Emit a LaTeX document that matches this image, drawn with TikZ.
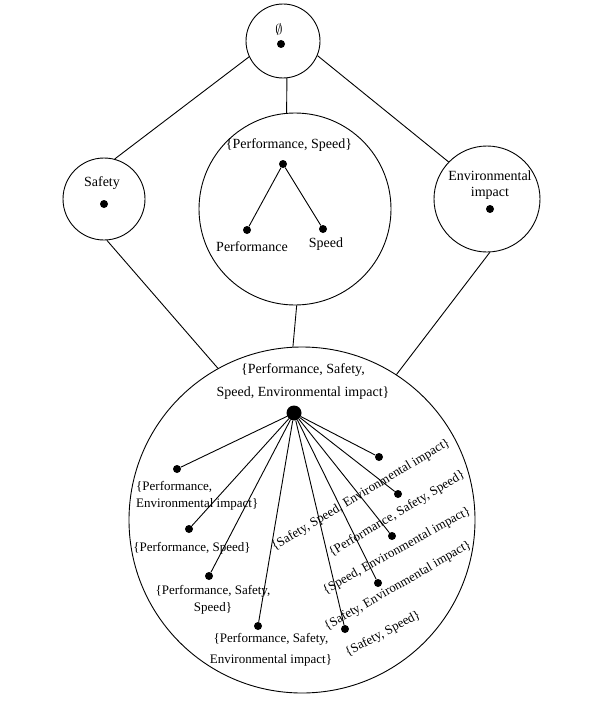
\documentclass[tikz,border=0pt]{standalone}
\usepackage{fontspec}
\setmainfont{Liberation Serif}
\begin{document}
\begin{tikzpicture}[x=1pt,y=-1pt,
  ring/.style={draw, circle, line width=0.9pt, inner sep=0pt},
  dot/.style={circle, fill, inner sep=0pt, minimum size=8pt},
  bigdot/.style={circle, fill, inner sep=0pt, minimum size=15pt},
  conn/.style={line width=0.9pt},
  lab/.style={font=\fontsize{14}{16}\selectfont, inner sep=0pt, align=center},
  slab/.style={font=\fontsize{13}{17}\selectfont, inner sep=0pt, align=center},
]
\useasboundingbox (0,0) rectangle (593,709);
% circles
\node[ring, minimum size=74pt] (top) at (283,41) {};
\node[ring, minimum size=192pt] (mid) at (295,209) {};
\node[ring, minimum size=82pt] (safety) at (104,199) {};
\node[ring, minimum size=106pt] (env) at (487,199) {};
\node[ring, minimum size=346pt] (big) at (302,520) {};
% connectors between circles
\draw[conn] (top.205) -- (safety.75);
\draw[conn] (top.337) -- (env.136);
\draw[conn] (top.276) -- (mid.95);
\draw[conn] (safety.274) -- (big.119);
\draw[conn] (mid.271) -- (big.93);
\draw[conn] (env.273) -- (big.57);
% top
\node[lab] (emptylab) at (279,30) {$\emptyset$};
\node[dot] (topdot) at (281,44) {};
% safety
\node[lab] (safetylab) at (102,183) {Safety};
\node[dot] (safetydot) at (104,204) {};
% env
\node[lab] (envlab) at (490,185) {Environmental\\impact};
\node[dot] (envdot) at (490,209) {};
% mid
\node[lab] (pslab) at (289,145) {\{Performance, Speed\}};
\node[dot] (psdot) at (283,164) {};
\node[dot] (pdot) at (247,230) {};
\node[dot] (sdot) at (323,229) {};
\node[lab] (plab) at (252,247) {Performance};
\node[lab] (slabel) at (326,244) {Speed};
\draw[conn] (psdot) -- (pdot);
\draw[conn] (psdot) -- (sdot);
% big
\node[lab, font=\fontsize{14}{23}\selectfont] (alllab) at (303,382) {\{Performance, Safety,\\Speed, Environmental impact\}};
\node[bigdot] (alldot) at (294,413) {};
\node[dot] (d1) at (177,469) {};
\node[dot] (d2) at (189,529) {};
\node[dot] (d3) at (209,576) {};
\node[dot] (d4) at (258,626) {};
\node[dot] (d5) at (379,457) {};
\node[dot] (d6) at (398,494) {};
\node[dot] (d7) at (392,536) {};
\node[dot] (d8) at (378,583) {};
\node[dot] (d9) at (345,629) {};
\node[slab, align=left, anchor=west] (l1) at (136,496) {\{Performance,\\Environmental impact\}};
\node[slab] (l2) at (192,548) {\{Performance, Speed\}};
\node[slab] (l3) at (213,600) {\{Performance, Safety,\\Speed\}};
\node[slab, font=\fontsize{13}{21}\selectfont] (l4) at (271,650) {\{Performance, Safety,\\Environmental impact\}};
\node[slab, rotate=31] (l5) at (361,495) {\{Safety, Speed, Environmental impact\}};
\node[slab, rotate=31] (l6) at (397,514) {\{Performance, Safety, Speed\}};
\node[slab, rotate=29] (l7) at (397,551) {\{Speed, Environmental impact\}};
\node[slab, rotate=30] (l8) at (398,586) {\{Safety, Environmental impact\}};
\node[slab, rotate=28] (l9) at (383,634) {\{Safety, Speed\}};
\foreach \d in {d1,d2,d3,d4,d5,d6,d7,d8,d9}
  \draw[conn] (alldot) -- (\d);
\end{tikzpicture}
\end{document}
